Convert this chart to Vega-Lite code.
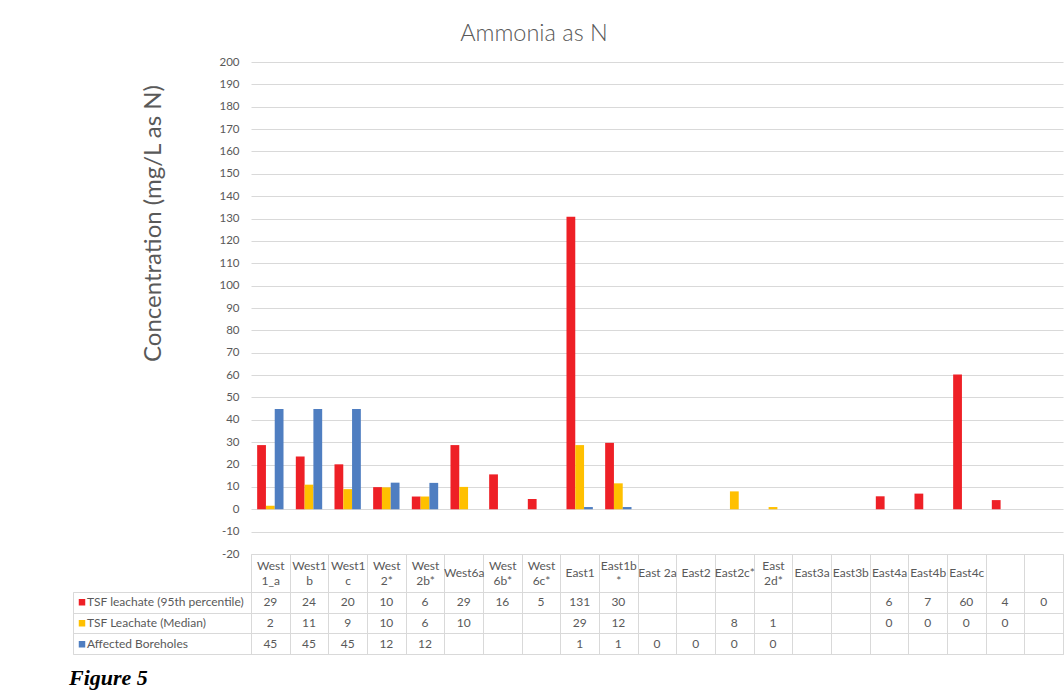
{
  "$schema": "https://vega.github.io/schema/vega-lite/v6.json",
  "padding": {"left": 68, "top": 21, "right": 0, "bottom": 0},
  "background": "white",
  "config": {"view": {"stroke": null}, "font": "Lato"},
  "title": {"text": "Ammonia as N", "font": "Lato", "fontSize": 23.5, "fontWeight": 300, "color": "#595959", "anchor": "middle", "dx": -32, "offset": 11},
  "datasets": {
    "d": [
      {"site": "West|1_a", "series": "TSF leachate (95th percentile)", "value": 28.7},
      {"site": "West1|b", "series": "TSF leachate (95th percentile)", "value": 23.6},
      {"site": "West1|c", "series": "TSF leachate (95th percentile)", "value": 20.1},
      {"site": "West|2*", "series": "TSF leachate (95th percentile)", "value": 9.9},
      {"site": "West|2b*", "series": "TSF leachate (95th percentile)", "value": 5.7},
      {"site": "West6a", "series": "TSF leachate (95th percentile)", "value": 28.7},
      {"site": "West|6b*", "series": "TSF leachate (95th percentile)", "value": 15.6},
      {"site": "West|6c*", "series": "TSF leachate (95th percentile)", "value": 4.6},
      {"site": "East1", "series": "TSF leachate (95th percentile)", "value": 130.8},
      {"site": "East1b|*", "series": "TSF leachate (95th percentile)", "value": 29.7},
      {"site": "East4a", "series": "TSF leachate (95th percentile)", "value": 5.8},
      {"site": "East4b", "series": "TSF leachate (95th percentile)", "value": 7.0},
      {"site": "East4c", "series": "TSF leachate (95th percentile)", "value": 60.3},
      {"site": " ", "series": "TSF leachate (95th percentile)", "value": 4.1},
      {"site": "  ", "series": "TSF leachate (95th percentile)", "value": 0},
      {"site": "West|1_a", "series": "TSF Leachate (Median)", "value": 1.6},
      {"site": "West1|b", "series": "TSF Leachate (Median)", "value": 11.0},
      {"site": "West1|c", "series": "TSF Leachate (Median)", "value": 9.0},
      {"site": "West|2*", "series": "TSF Leachate (Median)", "value": 9.8},
      {"site": "West|2b*", "series": "TSF Leachate (Median)", "value": 5.7},
      {"site": "West6a", "series": "TSF Leachate (Median)", "value": 10.0},
      {"site": "East1", "series": "TSF Leachate (Median)", "value": 28.7},
      {"site": "East1b|*", "series": "TSF Leachate (Median)", "value": 11.6},
      {"site": "East2c*", "series": "TSF Leachate (Median)", "value": 8.0},
      {"site": "East|2d*", "series": "TSF Leachate (Median)", "value": 1.0},
      {"site": "East4a", "series": "TSF Leachate (Median)", "value": 0},
      {"site": "East4b", "series": "TSF Leachate (Median)", "value": 0},
      {"site": "East4c", "series": "TSF Leachate (Median)", "value": 0},
      {"site": " ", "series": "TSF Leachate (Median)", "value": 0},
      {"site": "West|1_a", "series": "Affected Boreholes", "value": 44.8},
      {"site": "West1|b", "series": "Affected Boreholes", "value": 44.8},
      {"site": "West1|c", "series": "Affected Boreholes", "value": 44.8},
      {"site": "West|2*", "series": "Affected Boreholes", "value": 11.9},
      {"site": "West|2b*", "series": "Affected Boreholes", "value": 11.8},
      {"site": "East1", "series": "Affected Boreholes", "value": 1.0},
      {"site": "East1b|*", "series": "Affected Boreholes", "value": 1.0},
      {"site": "East 2a", "series": "Affected Boreholes", "value": 0},
      {"site": "East2", "series": "Affected Boreholes", "value": 0},
      {"site": "East2c*", "series": "Affected Boreholes", "value": 0},
      {"site": "East|2d*", "series": "Affected Boreholes", "value": 0}
    ]
  },
  "data": {"name": "d"},
  "columns": 2,
  "spacing": {"row": 38, "column": 0},
  "bounds": "flush",
  "concat": [
    {
      "width": 178,
      "height": 492,
      "mark": {"type": "text", "text": ""},
      "encoding": {}
    },
    {
      "width": 812,
      "height": 492,
      "mark": {"type": "bar"},
      "encoding": {
        "x": {
          "field": "site", "type": "nominal",
          "scale": {"domain": ["West|1_a","West1|b","West1|c","West|2*","West|2b*","West6a","West|6b*","West|6c*","East1","East1b|*","East 2a","East2","East2c*","East|2d*","East3a","East3b","East4a","East4b","East4c"," ","  "], "paddingInner": 0, "paddingOuter": 0},
          "axis": {"orient": "bottom", "title": null, "labelExpr": "datum.value ? split(datum.value, '|') : ''", "labelAngle": 0, "labelBaseline": "middle", "labelPadding": {"condition": {"test": "datum.value && indexof(datum.value, '|') >= 0", "value": -27}, "value": -20}, "labelLineHeight": 15, "labelFont": "Lato", "labelFontSize": 12, "labelColor": "#595959", "tickBand": "extent", "tickSize": 38, "tickColor": "#d9d9d9", "domainColor": "#d9d9d9", "labelOverlap": false, "labelBound": false, "grid": false}
        },
        "xOffset": {
          "field": "series", "type": "nominal",
          "scale": {"domain": ["TSF leachate (95th percentile)", "TSF Leachate (Median)", "Affected Boreholes"], "paddingInner": 0, "paddingOuter": 0.7}
        },
        "y": {
          "field": "value", "type": "quantitative",
          "scale": {"domain": [-20, 200], "nice": false, "zero": false},
          "axis": {"values": [-20,-10,0,10,20,30,40,50,60,70,80,90,100,110,120,130,140,150,160,170,180,190,200], "labelExpr": "replace(datum.label, '\u2212', '-')", "grid": true, "gridColor": "#d9d9d9", "domain": false, "ticks": false, "labelPadding": 12, "labelFont": "Lato", "labelFontSize": 11.5, "labelColor": "#595959", "title": "Concentration (mg/L as N)", "titleFont": "Lato", "titleFontSize": 24, "titleFontWeight": "normal", "titleColor": "#595959", "titleX": -98, "titleY": 161, "titleBaseline": "middle", "titleAlign": "center"}
        },
        "color": {
          "field": "series", "type": "nominal",
          "scale": {"domain": ["TSF leachate (95th percentile)", "TSF Leachate (Median)", "Affected Boreholes"], "range": ["#EE2026", "#FFC000", "#4F7EC1"]},
          "legend": {"orient": "none", "legendX": 3, "legendY": 530, "title": null, "symbolType": "square", "symbolSize": 42, "symbolStrokeWidth": 0, "labelFont": "Lato", "labelFontSize": 12, "labelColor": "#595959", "labelOffset": -1, "clipHeight": 20.67, "rowPadding": 0, "padding": 0, "labelLimit": 300}
        }
      }
    },
    {
      "width": 178,
      "height": 62,
      "view": {"stroke": "#d9d9d9"},
      "title": {"text": "Figure 5", "orient": "bottom", "anchor": "start", "dx": -4, "font": "Liberation Serif", "fontSize": 22, "fontStyle": "italic", "fontWeight": "bold", "color": "black", "offset": 14},
      "mark": {"type": "text", "text": ""},
      "encoding": {
        "y": {
          "field": "series", "type": "nominal",
          "scale": {"domain": ["TSF leachate (95th percentile)", "TSF Leachate (Median)", "Affected Boreholes"], "paddingInner": 0, "paddingOuter": 0},
          "axis": {"grid": true, "tickBand": "extent", "gridColor": "#d9d9d9", "labels": false, "ticks": false, "domain": false, "title": null}
        }
      }
    },
    {
      "width": 812,
      "height": 62,
      "view": {"stroke": "#d9d9d9"},
      "mark": {"type": "text", "font": "Lato", "fontSize": 12, "color": "#595959"},
      "encoding": {
        "x": {
          "field": "site", "type": "nominal",
          "scale": {"domain": ["West|1_a","West1|b","West1|c","West|2*","West|2b*","West6a","West|6b*","West|6c*","East1","East1b|*","East 2a","East2","East2c*","East|2d*","East3a","East3b","East4a","East4b","East4c"," ","  "], "paddingInner": 0, "paddingOuter": 0},
          "axis": {"orient": "top", "grid": true, "tickBand": "extent", "gridColor": "#d9d9d9", "labels": false, "ticks": false, "domain": false, "title": null}
        },
        "y": {
          "field": "series", "type": "nominal",
          "scale": {"domain": ["TSF leachate (95th percentile)", "TSF Leachate (Median)", "Affected Boreholes"], "paddingInner": 0, "paddingOuter": 0},
          "axis": {"grid": true, "tickBand": "extent", "gridColor": "#d9d9d9", "labels": false, "ticks": false, "domain": false, "title": null}
        },
        "text": {"field": "value", "type": "quantitative", "format": ".0f"}
      }
    }
  ]
}
